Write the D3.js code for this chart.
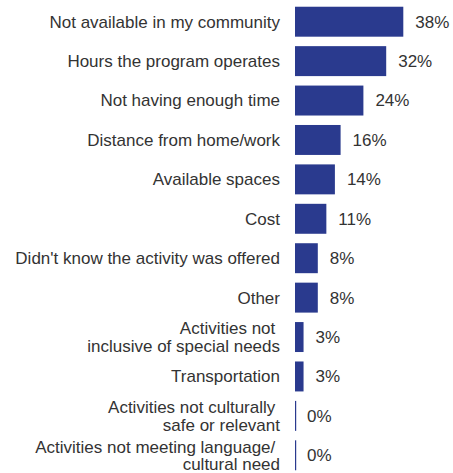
<!DOCTYPE html>
<html><head><meta charset="utf-8">
<script src="https://cdn.jsdelivr.net/npm/d3@7"></script>
<style>body{margin:0;background:#fff}svg{display:block}</style>
</head><body>
<script>
const categories = [
  "Not available in my community",
  "Hours the program operates",
  "Not having enough time",
  "Distance from home/work",
  "Available spaces",
  "Cost",
  "Didn't know the activity was offered",
  "Other",
  "Activities not \ninclusive of special needs",
  "Transportation",
  "Activities not culturally \nsafe or relevant",
  "Activities not meeting language/ \ncultural need"
];
const values = [38, 32, 24, 16, 14, 11, 8, 8, 3, 3, 0, 0];
const valueLabels = ["38%","32%","24%","16%","14%","11%","8%","8%","3%","3%","0%","0%"];

const W = 453, H = 473;
const svg = d3.select("body").append("svg").attr("width", W).attr("height", H);
const x0 = 295;
const x = d3.scaleLinear().domain([0, 38]).range([x0, 403.3]);
const y = d3.scaleBand().domain(categories).range([2, 475]).paddingInner(0.24).paddingOuter(0.12);
const font = "Liberation Sans, Arial, sans-serif";

const g = svg.append("g");
categories.forEach((c, i) => {
  const v = values[i];
  const yc = y(c) + y.bandwidth() / 2;
  const w = x(v) - x0;
  g.append("rect").attr("x", x0).attr("y", y(c)).attr("width", Math.max(w, 1.2))
    .attr("height", y.bandwidth()).attr("fill", "#2a3a8e");
  g.append("text").attr("x", x(v) + 12).attr("y", yc).attr("dy", "0.35em")
    .attr("font-family", font).attr("font-size", 17)
    .attr("fill", "#333").text(valueLabels[i]);
  const lines = c.split("\n");
  const lh = 17.4;
  const t = g.append("text").attr("text-anchor", "end")
    .attr("font-family", font).attr("font-size", 17)
    .attr("fill", "#333").style("white-space", "pre");
  lines.forEach((ln, j) => {
    t.append("tspan").attr("x", 280)
      .attr("y", yc + (j - (lines.length - 1) / 2) * lh).attr("dy", "0.35em").text(ln);
  });
});
</script>
</body></html>
